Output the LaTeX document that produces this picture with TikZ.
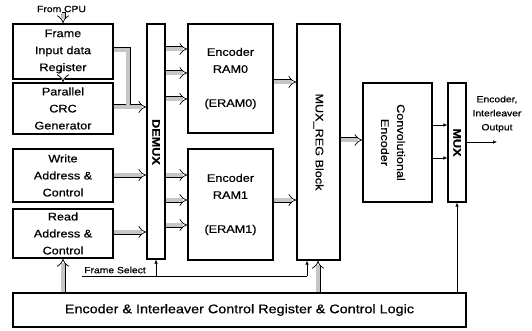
\documentclass[tikz,border=0pt]{standalone}
\usepackage{fontspec}
\setmainfont{Liberation Sans}[FakeStretch=1.15, FakeBold=0.6]
\usetikzlibrary{arrows.meta}
\begin{document}
\begin{tikzpicture}[x=1pt,y=-1pt,
  blk/.style={draw, line width=1.1pt, inner sep=0pt, align=center, font=\fontsize{11}{17}\selectfont},
  lbl/.style={inner sep=0pt, align=center, font=\fontsize{11}{16}\selectfont},
  small/.style={inner sep=0pt, align=center, font=\fontsize{9}{14}\selectfont},
  bus/.style={line width=0.7pt, double=gray!45, double distance=3.6pt, -{Implies}},
  busn/.style={line width=0.7pt, double=gray!45, double distance=3.6pt},
  sig/.style={draw, line width=0.7pt, -{Latex[length=4pt,width=3.5pt]}},
  wire/.style={draw, line width=0.7pt},
]
\useasboundingbox (0,0) rectangle (532,331);
% blocks
\node[blk, minimum width=100pt, minimum height=55pt] (frame) at (63,51.5) {Frame\\Input data\\Register};
\node[blk, minimum width=100pt, minimum height=51pt] (crc) at (63,108.5) {Parallel\\CRC\\Generator};
\node[blk, minimum width=100pt, minimum height=53pt] (write) at (63,175.5) {Write\\Address \&\\Control};
\node[blk, minimum width=100pt, minimum height=49pt] (read) at (63,233.5) {Read\\Address \&\\Control};
\node[blk, minimum width=18pt, minimum height=235pt] (demux) at (156,141.5) {};
\node[lbl, rotate=-90, font=\bfseries\fontsize{11}{16}\selectfont] (demuxl) at (156,142) {DEMUX};
\node[blk, minimum width=85pt, minimum height=109pt] (ram0) at (230.5,78.5) {Encoder\\RAM0\\[17pt](ERAM0)};
\node[blk, minimum width=85pt, minimum height=111pt] (ram1) at (230.5,204.5) {Encoder\\RAM1\\[17pt](ERAM1)};
\node[blk, minimum width=43pt, minimum height=236pt] (muxreg) at (318.5,142) {};
\node[lbl, rotate=-90] (muxregl) at (318.5,142) {MUX\_REG Block};
\node[blk, minimum width=69pt, minimum height=119pt] (conv) at (397.5,142.5) {};
\node[lbl, rotate=-90] (convl) at (393,142.5) {Convolutional\\Encoder};
\node[blk, minimum width=18pt, minimum height=119pt] (mux) at (457,142.5) {};
\node[lbl, rotate=-90, font=\bfseries\fontsize{11}{16}\selectfont] (muxl) at (457,142.5) {MUX};
\node[blk, minimum width=453pt, minimum height=34pt, font=\fontsize{12.5}{15}\selectfont] (ctrl) at (239.5,310) {Encoder \& Interleaver Control Register \& Control Logic};
% labels
\node[small] (cpu) at (61.5,9) {From CPU};
\node[small] (fsel) at (115,270) {Frame Select};
\node[small] (outl) at (497,114) {Encoder,\\Interleaver\\Output};
\coordinate (cpuin) at (62,15);
\coordinate (fsl) at (82,276);
\coordinate (fsr) at (307,276);
\coordinate (outp) at (497,142);
% bus arrows
\draw[bus] (cpuin) -- (frame.north |- cpuin) -- (frame.north);
\draw[bus] (frame.south) -- (crc.north);
\draw[bus] (crc.east |- 0,107) -- (demux.west |- 0,107);
\draw[busn] (frame.east |- 0,50) -- (128,50) -- (128,105);
\draw[bus] (write.east |- 0,175) -- (demux.west |- 0,175);
\draw[bus] (read.east |- 0,232) -- (demux.west |- 0,232);
\foreach \yy in {49,73,99} \draw[bus] (demux.east |- 0,\yy) -- (ram0.west |- 0,\yy);
\foreach \yy in {175,200,225} \draw[bus] (demux.east |- 0,\yy) -- (ram1.west |- 0,\yy);
\draw[bus] (ram0.east |- 0,82) -- (muxreg.west |- 0,82);
\draw[bus] (ram1.east |- 0,200) -- (muxreg.west |- 0,200);
\draw[bus] (muxreg.east |- 0,140) -- (conv.west |- 0,140);
\draw[bus] (ctrl.north -| 63,0) -- (read.south -| 63,0);
\draw[bus] (ctrl.north -| 318,0) -- (muxreg.south -| 318,0);
% thin signals
\draw[sig] (conv.east |- 0,125) -- (mux.west |- 0,125);
\draw[sig] (conv.east |- 0,158) -- (mux.west |- 0,158);
\draw[sig] (mux.east |- outp) -- (outp);
\draw[sig] (ctrl.north -| mux.south) -- (mux.south);
\draw[wire] (fsl) -- (fsr);
\draw[sig] (fsl -| demux.south) -- (demux.south);
\draw[sig] (fsr) -- (fsr |- muxreg.south);
\end{tikzpicture}
\end{document}
